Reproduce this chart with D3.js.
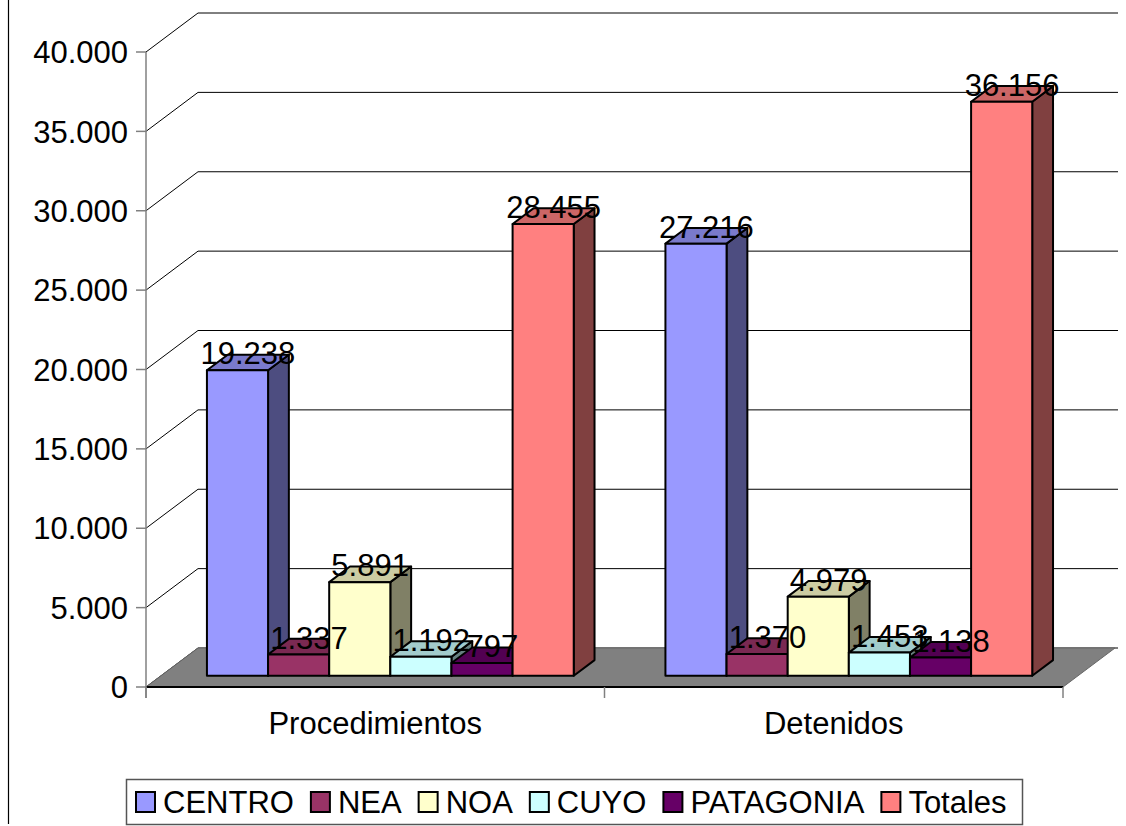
<!DOCTYPE html>
<html>
<head>
<meta charset="utf-8">
<script src="https://cdn.jsdelivr.net/npm/d3@7"></script>
<style>
  body { margin: 0; background: #fff; }
  svg { display: block; font-family: "Liberation Sans", Arial, sans-serif; }
</style>
</head>
<body>
<svg id="chart" width="1126" height="826"></svg>
<script>
// data
const categories = ["Procedimientos", "Detenidos"];
const seriesNames = ["CENTRO", "NEA", "NOA", "CUYO", "PATAGONIA", "Totales"];
const centro = [19238, 27216];
const nea = [1337, 1370];
const noa = [5891, 4979];
const cuyo = [1192, 1453];
const patagonia = [797, 1138];
const totales = [28455, 36156];
const yTicks = [0, 5000, 10000, 15000, 20000, 25000, 30000, 35000, 40000];
const seriesColors = ["#9999FF", "#993366", "#FFFFCC", "#CCFFFF", "#660066", "#FF8080"];

const seriesValues = [centro, nea, noa, cuyo, patagonia, totales];

const locale = d3.formatLocale({ decimal: ",", thousands: ".", grouping: [3], currency: ["", ""] });
const fmt = locale.format(",");

const svg = d3.select("#chart");
const fontSize = "31px";

// 3D layout: front plane + depth offset toward upper right
const depthX = 52, depthY = -39;
const barD0 = 0.29, barD1 = 0.69; // depth span of the bars

const x = d3.scaleBand().domain(categories).range([146, 1063]).padding(0);
const xs = d3.scaleBand().domain(seriesNames).range([0, x.bandwidth()]).paddingInner(0).paddingOuter(0.75);
const y = d3.scaleLinear().domain([0, 40000]).range([687, 52]);

function shade(c, k) {
  const r = d3.rgb(c);
  return d3.rgb(r.r * k, r.g * k, r.b * k).formatHex();
}

// left border of the chart area
svg.append("line")
  .attr("x1", 8.5).attr("x2", 8.5).attr("y1", 0).attr("y2", 824)
  .attr("stroke", "#000").attr("stroke-width", 1.2);

// walls gridlines
const grid = svg.append("g");
yTicks.forEach(t => {
  const yf = y(t), yb = y(t) + depthY;
  grid.append("line")
    .attr("x1", 146).attr("y1", yf).attr("x2", 146 + depthX).attr("y2", yb)
    .attr("stroke", "#000").attr("stroke-width", 1);
  grid.append("line")
    .attr("x1", 146 + depthX).attr("y1", yb).attr("x2", 1063 + depthX + 3).attr("y2", yb)
    .attr("stroke", "#000").attr("stroke-width", 1);
});

// floor
const x0 = x.range()[0], x1 = x.range()[1];
svg.append("polygon")
  .attr("points", [[x0, y(0)], [x1, y(0)], [x1 + depthX, y(0) + depthY], [x0 + depthX, y(0) + depthY]].join(" "))
  .attr("fill", "#808080")
  .attr("stroke", "#666").attr("stroke-width", 1);
svg.append("line")
  .attr("x1", x0).attr("x2", x1).attr("y1", y(0)).attr("y2", y(0))
  .attr("stroke", "#000").attr("stroke-width", 2);

// value axis
const axisG = svg.append("g");
axisG.append("line")
  .attr("x1", 146).attr("x2", 146).attr("y1", y(40000)).attr("y2", y(0) + 11)
  .attr("stroke", "#808080").attr("stroke-width", 1.5);
yTicks.forEach(t => {
  axisG.append("line")
    .attr("x1", 136).attr("x2", 146).attr("y1", y(t)).attr("y2", y(t))
    .attr("stroke", "#808080").attr("stroke-width", 1.5);
  axisG.append("text")
    .attr("x", 128).attr("y", y(t))
    .attr("dy", "0.36em")
    .attr("text-anchor", "end")
    .style("font-size", fontSize)
    .style("fill", "#000")
    .text(fmt(t));
});

// category ticks and labels
[x0, x0 + x.bandwidth(), x1].forEach(tx => {
  svg.append("line")
    .attr("x1", tx).attr("x2", tx).attr("y1", y(0)).attr("y2", y(0) + 11)
    .attr("stroke", "#808080").attr("stroke-width", 1.5);
});
categories.forEach(c => {
  svg.append("text")
    .attr("x", x(c) + x.bandwidth() / 2)
    .attr("y", 734)
    .attr("text-anchor", "middle")
    .style("font-size", fontSize)
    .text(c);
});

// bars (left to right so each front face covers the previous side face)
const barsG = svg.append("g");
const labels = [];
const ox = depthX * barD0, oy = depthY * barD0;
const dx = depthX * (barD1 - barD0), dy = depthY * (barD1 - barD0);

categories.forEach((c, ci) => {
  seriesNames.forEach((s, si) => {
    const v = seriesValues[si][ci];
    const color = seriesColors[si];
    const left = x(c) + xs(s) + ox;
    const right = left + xs.bandwidth();
    const bottom = y(0) + oy;
    const top = y(v) + oy;
    const g = barsG.append("g")
      .attr("stroke", "#000").attr("stroke-width", 2).attr("stroke-linejoin", "round");
    // side
    g.append("polygon")
      .attr("points", [[right, bottom], [right + dx, bottom + dy], [right + dx, top + dy], [right, top]].join(" "))
      .attr("fill", shade(color, 0.5));
    // top
    g.append("polygon")
      .attr("points", [[left, top], [right, top], [right + dx, top + dy], [left + dx, top + dy]].join(" "))
      .attr("fill", shade(color, 0.8));
    // front
    g.append("rect")
      .attr("x", left).attr("y", top)
      .attr("width", xs.bandwidth()).attr("height", bottom - top)
      .attr("fill", color);
    labels.push({ x: left + xs.bandwidth() / 2 + dx / 2, y: top + dy / 2 + 2, v: v });
  });
});

// value labels on top of everything
svg.append("g").selectAll("text")
  .data(labels)
  .join("text")
  .attr("x", d => d.x)
  .attr("y", d => d.y)
  .attr("text-anchor", "middle")
  .style("font-size", fontSize)
  .text(d => fmt(d.v));

// legend
const legend = svg.append("g");
legend.append("rect")
  .attr("x", 126.5).attr("y", 779.5).attr("width", 896).attr("height", 45)
  .attr("fill", "#fff").attr("stroke", "#555").attr("stroke-width", 1.5);

let lx = 136;
seriesNames.forEach((s, i) => {
  legend.append("rect")
    .attr("x", lx).attr("y", 792).attr("width", 19).attr("height", 20)
    .attr("fill", seriesColors[i]).attr("stroke", "#000").attr("stroke-width", 2);
  const t = legend.append("text")
    .attr("x", lx + 27).attr("y", 813)
    .style("font-size", fontSize)
    .text(s);
  const w = t.node().getComputedTextLength();
  lx += 27 + w + 17;
});
</script>
</body>
</html>
